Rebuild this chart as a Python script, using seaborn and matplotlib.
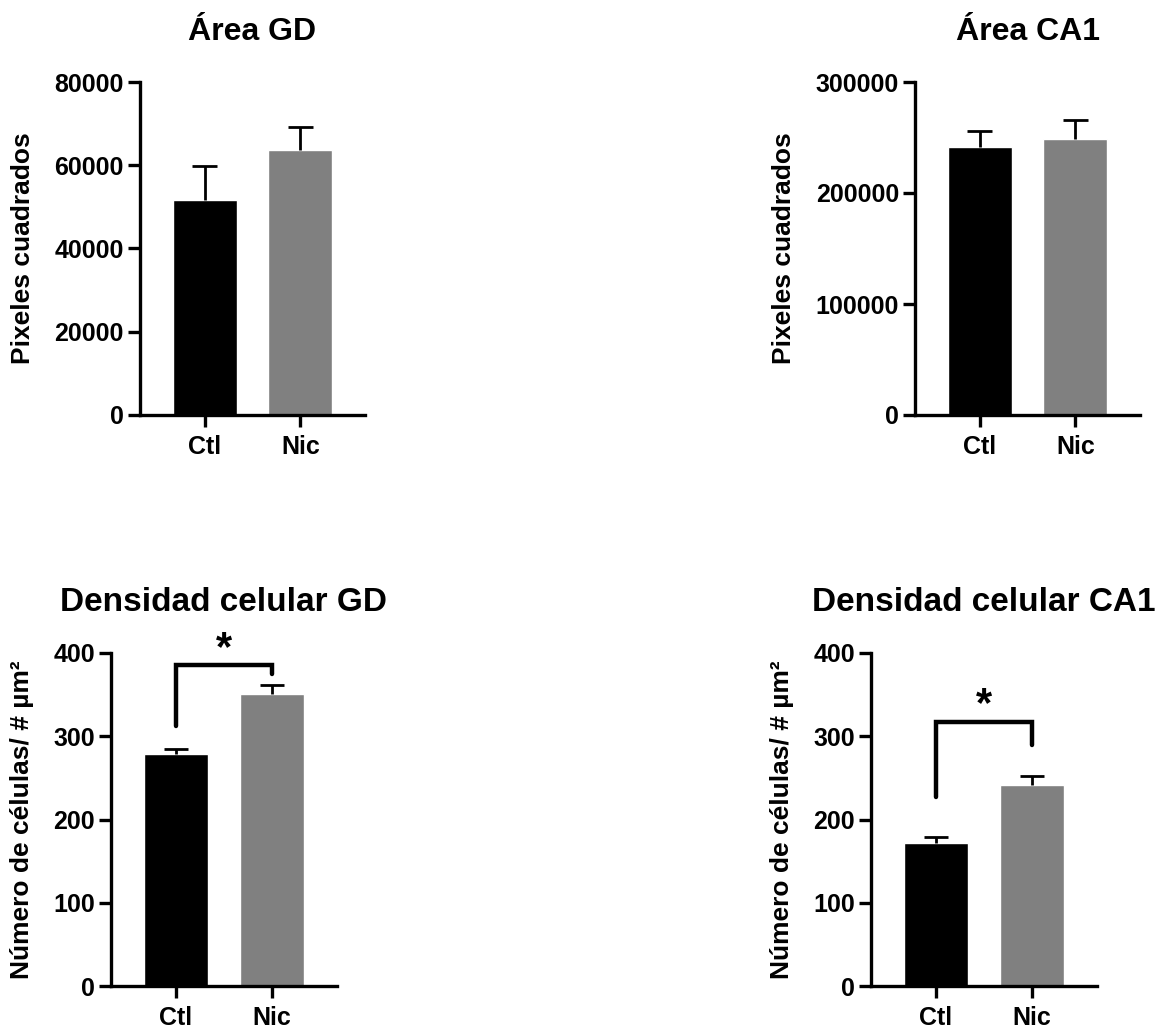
import numpy as np
import pandas as pd
import matplotlib.pyplot as plt
import seaborn as sns

groups = ['Ctl', 'Nic']
colors = {'Ctl': '#000000', 'Nic': '#808080'}

area_gd_mean = [51700, 63700]
area_gd_err = [8200, 5400]
area_ca1_mean = [241700, 248400]
area_ca1_err = [14400, 17400]
dens_gd_mean = [279, 351]
dens_gd_err = [6, 11]
dens_ca1_mean = [172, 241]
dens_ca1_err = [7, 11]

titles = ['Área GD', 'Área CA1', 'Densidad celular GD', 'Densidad celular CA1']
ylabels = ['Pixeles cuadrados', 'Pixeles cuadrados',
           'Número de células/ # µm²', 'Número de células/ # µm²']
yticks_list = [[0, 20000, 40000, 60000, 80000],
               [0, 100000, 200000, 300000],
               [0, 100, 200, 300, 400],
               [0, 100, 200, 300, 400]]

# significance brackets: (left foot, bar height, right foot, star y)
sig_gd = (312, 385, 375, 405)
sig_ca1 = (227, 317, 290, 337)

sns.set_style('ticks')
plt.rcParams['font.family'] = ['Liberation Sans', 'DejaVu Sans']
plt.rcParams['font.weight'] = 'bold'
plt.rcParams['axes.labelweight'] = 'bold'
plt.rcParams['axes.titleweight'] = 'bold'
for k in ['text.color', 'axes.labelcolor', 'xtick.color', 'ytick.color',
          'axes.edgecolor', 'xtick.labelcolor', 'ytick.labelcolor']:
    plt.rcParams[k] = 'black'

W, H = 1156, 1032
fig = plt.figure(figsize=(W / 100, H / 100), dpi=100)

# axes boxes in pixels: left, top, width, height
boxes = [(140, 82, 225, 333), (915, 82, 225, 333),
         (111, 653, 226, 333), (871, 653, 226, 333)]
means = [area_gd_mean, area_ca1_mean, dens_gd_mean, dens_ca1_mean]
errs = [area_gd_err, area_ca1_err, dens_gd_err, dens_ca1_err]
sigs = [None, None, sig_gd, sig_ca1]
title_sizes = [23, 23, 24, 24]
cap = 0.13

for i in range(4):
    l, t, w, h = boxes[i]
    ax = fig.add_axes([l / W, (H - t - h) / H, w / W, h / H])
    df = pd.DataFrame({'grupo': groups, 'valor': means[i]})
    sns.barplot(data=df, x='grupo', y='valor', hue='grupo', palette=colors,
                legend=False, width=0.667, saturation=1, ax=ax, zorder=2)
    # upper-only error bars
    xs = np.arange(len(groups))
    tops = np.array(means[i]) + np.array(errs[i])
    ax.vlines(xs, means[i], tops, color='black', lw=2, zorder=3)
    ax.hlines(tops, xs - cap, xs + cap, color='black', lw=2, zorder=3)
    ax.set_xlim(-0.677, 1.677)
    ax.set_ylim(0, yticks_list[i][-1])
    ax.set_yticks(yticks_list[i])
    ax.set_xlabel('')
    ax.set_ylabel(ylabels[i], fontsize=19, labelpad=14)
    ax.set_title(titles[i], fontsize=title_sizes[i], pad=30)
    for s in ['top', 'right']:
        ax.spines[s].set_visible(False)
    for s in ['left', 'bottom']:
        ax.spines[s].set_linewidth(2.4)
    ax.tick_params(axis='both', width=2.4, length=8.6, labelsize=18)
    ax.tick_params(axis='y', pad=3)
    ax.tick_params(axis='x', pad=6)
    if sigs[i] is not None:
        y0, yt, y1, ys = sigs[i]
        ax.plot([0, 0, 1, 1], [y0, yt, yt, y1], color='black', lw=3.2,
                solid_joinstyle='miter', clip_on=False, zorder=4)
        ax.text(0.5, ys, '*', ha='center', va='center', fontsize=30,
                fontweight='bold', clip_on=False)

fig.savefig('out.png', dpi=100)
